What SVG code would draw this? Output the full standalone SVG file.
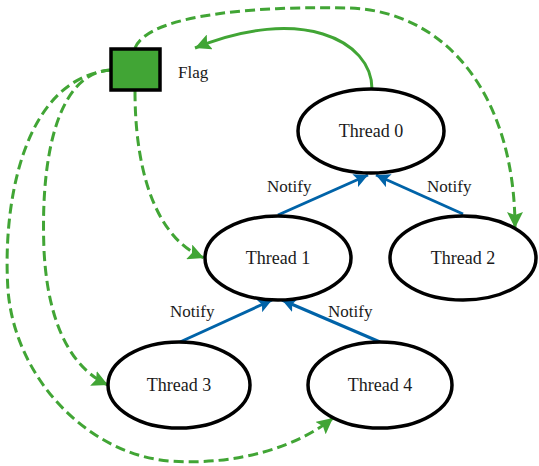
<svg xmlns="http://www.w3.org/2000/svg" width="539" height="466" viewBox="0 0 539 466">
<style>
.node ellipse{fill:#fff;stroke:#000;stroke-width:3.5}
text{font-family:"Liberation Serif","DejaVu Serif",serif;font-size:17px;fill:#1a1a1a}
.lbl{text-anchor:middle;font-size:18px}
.blue{fill:none;stroke:#0063a8;stroke-width:3}
.green{fill:none;stroke:#41a535;stroke-width:3}
.dash{stroke-dasharray:10 5}
</style>
<defs>
<marker id="ab" markerUnits="userSpaceOnUse" markerWidth="16" markerHeight="14" refX="14" refY="7" orient="auto">
<path d="M0,0 L14,7 L0,14 L3,7 Z" fill="#0063a8"/>
</marker>
<marker id="ag" markerUnits="userSpaceOnUse" markerWidth="18" markerHeight="16" refX="16" refY="8" orient="auto">
<path d="M0,0 L16,8 L0,16 L3,8 Z" fill="#41a535"/>
</marker>
</defs>
<g id="connectors">
<line class="blue" x1="278" y1="215" x2="368" y2="175" marker-end="url(#ab)"/>
<line class="blue" x1="463" y1="214" x2="376" y2="175" marker-end="url(#ab)"/>
<line class="blue" x1="180" y1="342" x2="272" y2="300" marker-end="url(#ab)"/>
<line class="blue" x1="380" y1="342" x2="282" y2="300" marker-end="url(#ab)"/>
<path class="green" d="M372,89 C372,40 300,5 195,48" marker-end="url(#ag)"/>
<path class="green dash" d="M135,48 C150,12 270,6 350,8 C450,12 515,100 515,228" marker-end="url(#ag)"/>
<path class="green dash" d="M135,91 C135,180 160,240 204,258" marker-end="url(#ag)"/>
<path class="green dash" d="M111,70 C60,72 40,150 44,250 C48,330 75,370 108,385" marker-end="url(#ag)"/>
<path class="green dash" d="M111,70 C25,78 2,200 8,290 C15,380 90,455 170,461 C240,466 300,445 333,418" marker-end="url(#ag)"/>
<text x="267" y="192">Notify</text>
<text x="427" y="192">Notify</text>
<text x="170" y="317">Notify</text>
<text x="328" y="317">Notify</text>
</g>
<g id="flag">
<rect x="111" y="49" width="49" height="41" fill="#41a535" stroke="#000" stroke-width="3.5"/>
<text x="178" y="78">Flag</text>
</g>
<g id="thread0" class="node"><ellipse cx="371" cy="131" rx="73" ry="42"/><text class="lbl" x="371" y="137">Thread 0</text></g>
<g id="thread1" class="node"><ellipse cx="278" cy="258" rx="73" ry="42"/><text class="lbl" x="278" y="264">Thread 1</text></g>
<g id="thread2" class="node"><ellipse cx="463" cy="258" rx="73" ry="42"/><text class="lbl" x="463" y="264">Thread 2</text></g>
<g id="thread3" class="node"><ellipse cx="179" cy="385" rx="71" ry="43"/><text class="lbl" x="179" y="391">Thread 3</text></g>
<g id="thread4" class="node"><ellipse cx="380" cy="385" rx="72" ry="43"/><text class="lbl" x="380" y="391">Thread 4</text></g>
</svg>
